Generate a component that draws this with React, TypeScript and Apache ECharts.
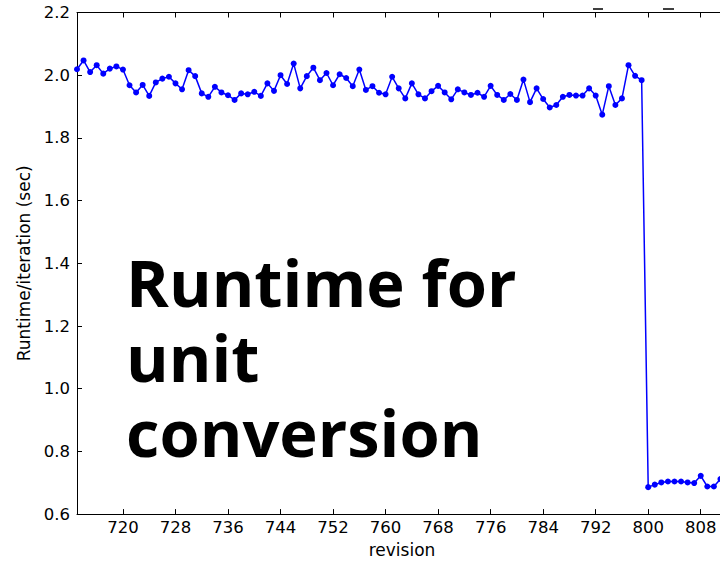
import React, { useEffect, useRef } from "react";
import * as echarts from "echarts";

const revisions = [
  713, 714, 715, 716, 717, 718, 719, 720, 721, 722, 723, 724, 725, 726, 727, 728, 729, 730, 731, 732,
  733, 734, 735, 736, 737, 738, 739, 740, 741, 742, 743, 744, 745, 746, 747, 748, 749, 750, 751, 752,
  753, 754, 755, 756, 757, 758, 759, 760, 761, 762, 763, 764, 765, 766, 767, 768, 769, 770, 771, 772,
  773, 774, 775, 776, 777, 778, 779, 780, 781, 782, 783, 784, 785, 786, 787, 788, 789, 790, 791, 792,
  793, 794, 795, 796, 797, 798, 799, 800, 801, 802, 803, 804, 805, 806, 807, 808, 809, 810, 811,
];

const runtimes = [
  2.019, 2.047, 2.010, 2.032, 2.005, 2.021, 2.028, 2.018, 1.968, 1.945, 1.969, 1.934, 1.977, 1.989, 1.995, 1.974, 1.955, 2.016, 1.997, 1.942,
  1.931, 1.963, 1.945, 1.936, 1.921, 1.942, 1.939, 1.947, 1.934, 1.974, 1.950, 2.000, 1.972, 2.037, 1.958, 1.997, 2.024, 1.984, 2.007, 1.968,
  2.003, 1.991, 1.965, 2.018, 1.953, 1.965, 1.944, 1.939, 1.995, 1.958, 1.926, 1.974, 1.939, 1.926, 1.949, 1.966, 1.945, 1.923, 1.955, 1.945,
  1.937, 1.944, 1.931, 1.966, 1.937, 1.921, 1.940, 1.921, 1.986, 1.914, 1.958, 1.924, 1.897, 1.905, 1.931, 1.937, 1.935, 1.935, 1.958, 1.935,
  1.874, 1.965, 1.905, 1.926, 2.032, 1.998, 1.984, 0.686, 0.694, 0.701, 0.704, 0.704, 0.704, 0.701, 0.699, 0.722, 0.688, 0.688, 0.712,
];

const xTicks = [720, 728, 736, 744, 752, 760, 768, 776, 784, 792, 800, 808];
const titleLines = ["Runtime for", "unit", "conversion"];

export default function App() {
  const ref = useRef<HTMLDivElement>(null);

  useEffect(() => {
    if (!ref.current) return;
    const chart = echarts.init(ref.current, null, { renderer: "svg" });
    const tickFont = { fontFamily: "DejaVu Sans", fontSize: 16.5, color: "#000" };
    const axisLine = { show: true, lineStyle: { color: "#000", width: 1 } };
    chart.setOption({
      animation: false,
      backgroundColor: "#fff",
      grid: { left: 77, right: 13, top: 12.5, bottom: 44, containLabel: false },
      xAxis: [
        {
          type: "value",
          position: "bottom",
          min: 713,
          max: 812,
          axisLine,
          axisTick: { show: true, inside: true, length: 5, lineStyle: { color: "#000" }, customValues: xTicks },
          axisLabel: { ...tickFont, margin: 5, customValues: xTicks },
          splitLine: { show: false },
          name: "revision",
          nameLocation: "middle",
          nameGap: 25,
          nameTextStyle: { fontFamily: "DejaVu Sans", fontSize: 17, color: "#000" },
        },
        {
          type: "value",
          position: "top",
          min: 713,
          max: 812,
          axisLine,
          axisTick: { show: true, inside: true, length: 5, lineStyle: { color: "#000" }, customValues: xTicks },
          axisLabel: { show: false },
          splitLine: { show: false },
        },
      ],
      yAxis: [
        {
          type: "value",
          min: 0.6,
          max: 2.2,
          interval: 0.2,
          axisLine,
          axisTick: { show: true, inside: true, length: 5, lineStyle: { color: "#000" } },
          axisLabel: { ...tickFont, margin: 7, formatter: (v: number) => v.toFixed(1) },
          splitLine: { show: false },
          name: "Runtime/iteration (sec)",
          nameLocation: "middle",
          nameGap: 37,
          nameTextStyle: { fontFamily: "DejaVu Sans", fontSize: 17, color: "#000" },
        },
      ],
      series: [
        {
          type: "line",
          xAxisIndex: 0,
          yAxisIndex: 0,
          data: revisions.map((r, i) => [r, runtimes[i]]),
          symbol: "circle",
          symbolSize: 6,
          showSymbol: true,
          itemStyle: { color: "#0000ff" },
          lineStyle: { color: "#0000ff", width: 1.5 },
          clip: true,
        },
      ],
      graphic: [
        {
          type: "text",
          left: 126,
          top: 244.5,
          z: 100,
          style: {
            text: titleLines.join("\n"),
            fill: "#000",
            fontFamily: "Open Sans",
            fontWeight: "bold",
            fontSize: 65,
            lineHeight: 75,
          },
        },
        { type: "line", shape: { x1: 593, y1: 9, x2: 603, y2: 9 }, style: { stroke: "#000", lineWidth: 1.5 } },
        { type: "line", shape: { x1: 663, y1: 9, x2: 674, y2: 9 }, style: { stroke: "#000", lineWidth: 1.5 } },
      ],
    });
    return () => chart.dispose();
  }, []);

  return (
    <div style={{ position: "fixed", left: 0, top: 0, width: 720, height: 563, overflow: "hidden", background: "#fff" }}>
      <div ref={ref} style={{ position: "absolute", left: 0, top: 0, width: 740, height: 563 }} />
    </div>
  );
}
